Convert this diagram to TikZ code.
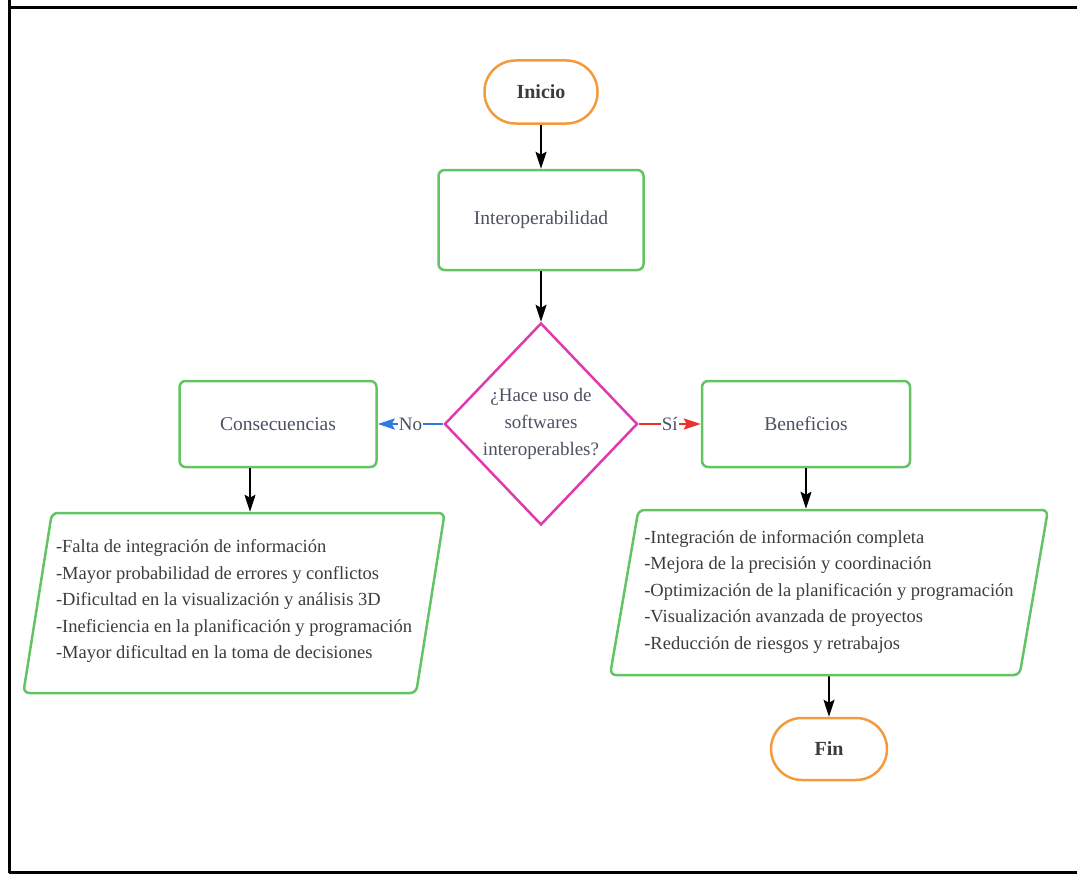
\documentclass[tikz,border=0pt]{standalone}
\usepackage{fontspec}
\setmainfont{Liberation Serif}
\usepackage{tikz}
\usetikzlibrary{shapes.geometric, arrows.meta, positioning}
\definecolor{orangeFC}{HTML}{F59A3C}
\definecolor{greenFC}{HTML}{62C462}
\definecolor{magentaFC}{HTML}{DD3AAE}
\definecolor{blueFC}{HTML}{2F7BE0}
\definecolor{redFC}{HTML}{E8322E}
\definecolor{boxText}{HTML}{4B5162}
\definecolor{listText}{HTML}{3C3C3C}
\tikzstyle{startstop} = [rectangle, rounded corners=31pt, minimum width=113pt, minimum height=63pt, text centered, draw=orangeFC, line width=2.5pt, text=listText, font=\fontsize{20}{24}\selectfont\bfseries]
\tikzstyle{process} = [rectangle, rounded corners=6pt, minimum height=86pt, text centered, draw=greenFC, line width=2.5pt, text=boxText, font=\fontsize{19.5}{24}\selectfont]
\tikzstyle{io} = [trapezium, trapezium left angle=78, trapezium right angle=102, trapezium stretches=true, rounded corners=6pt, draw=greenFC, line width=2.5pt, align=left, text=listText, font=\fontsize{18.5}{26.5}\selectfont]
\tikzstyle{decision} = [diamond, minimum width=193pt, minimum height=202pt, inner sep=0pt, align=center, draw=magentaFC, line width=2.5pt, text=boxText, font=\fontsize{19}{27}\selectfont]
\tikzstyle{arrow} = [line width=1.8pt, ->, >={Stealth[length=17pt,width=11pt,inset=3pt]}]
\tikzstyle{answer} = [fill=white, inner sep=1pt, text=boxText, font=\fontsize{19}{24}\selectfont]
\begin{document}
\begin{tikzpicture}[node distance=130pt]
	\useasboundingbox (0pt,0pt) rectangle (1077pt,-875pt);
	% marco
	\draw [line width=3pt] (8pt,-8pt) -- (1077pt,-8pt);
	\draw [line width=3pt] (9pt,0pt) -- (9pt,-873pt);
	\draw [line width=3pt] (9pt,-872.5pt) -- (1077pt,-872.5pt);

	\node (inicio) [startstop] at (541pt,-92pt) {Inicio};
	\node (interop) [process, minimum width=205pt, minimum height=100pt, below of=inicio, yshift=2pt] {Interoperabilidad};
	\node (decUso) [decision, below of=interop, yshift=-74pt] {¿Hace uso de\\softwares\\interoperables?};
	\node (consec) [process, minimum width=197pt, left of=decUso, xshift=-133pt] {Consecuencias};
	\node (benef) [process, minimum width=208pt, right of=decUso, xshift=135pt] {Beneficios};

	\node (consecList) [io, minimum width=422pt, minimum height=180pt, below of=consec, xshift=-44pt, yshift=-49pt] {-Falta de integración de información\\-Mayor probabilidad de errores y conflictos\\-Dificultad en la visualización y análisis 3D\\-Ineficiencia en la planificación y programación\\-Mayor dificultad en la toma de decisiones\\[-18.5pt]};
	\node (benefList) [io, minimum width=440pt, minimum height=165pt, below of=benef, xshift=23pt, yshift=-38.5pt] {-Integración de información completa\\-Mejora de la precisión y coordinación\\-Optimización de la planificación y programación\\-Visualización avanzada de proyectos\\-Reducción de riesgos y retrabajos\\[-20.5pt]};
	\node (fin) [startstop, minimum width=116pt, minimum height=62pt, below of=benefList, yshift=-26.5pt] {Fin};

	\draw [arrow] (inicio) -- (interop);
	\draw [arrow] (interop) -- (decUso);
	\draw [arrow, line width=2.5pt, draw=blueFC] (decUso) -- node[answer] {No} (consec);
	\draw [arrow, line width=2.5pt, draw=redFC] (decUso) -- node[answer] {Sí} (benef);
	\draw [arrow] ([xshift=-28pt]consec.south) -- ([xshift=-28pt]consec.south |- consecList.north);
	\draw [arrow] (benef) -- (benef |- benefList.north);
	\draw [arrow] (benefList) -- (fin);
\end{tikzpicture}
\end{document}
